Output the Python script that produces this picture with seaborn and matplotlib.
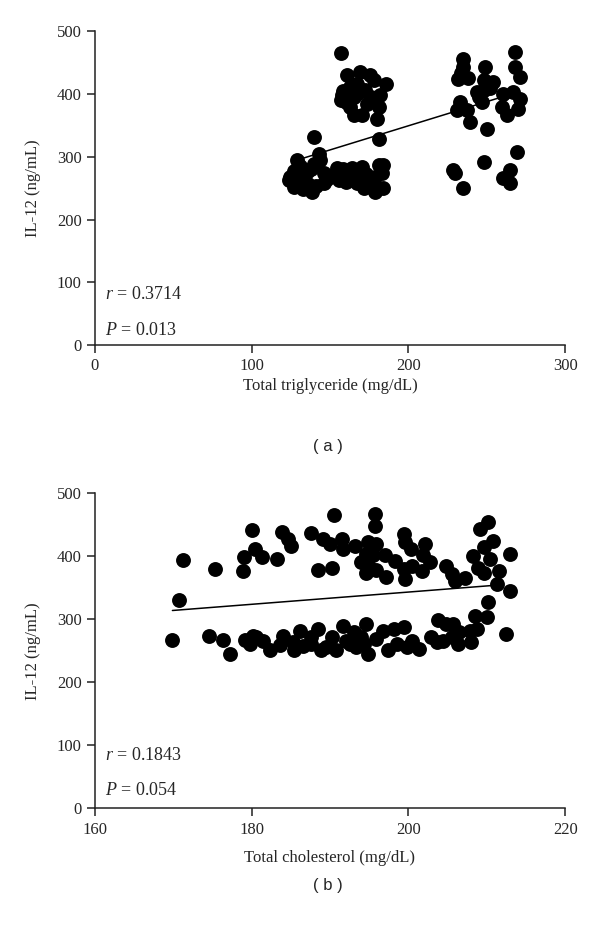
import matplotlib

matplotlib.use("Agg")
import matplotlib.pyplot as plt
import pandas as pd
import seaborn as sns

# ---- panel (a): total triglyceride vs IL-12 ----
tg_x = [
    157.3, 161, 169.4, 175.8, 185.4, 157.7, 156.7, 163, 167, 172.6, 182, 181, 163, 165, 170.5,
    173.7, 180, 160, 176, 165, 168, 158, 178,
    139.5, 181,
    129, 142.8, 143.5, 124.8, 126.9, 133, 138.6, 135.5, 146, 154.6, 155.6, 161.8, 170.5, 168.3,
    171.5, 167, 179, 184, 183, 184, 179, 150, 158, 131, 138, 127, 146, 173, 124, 141, 181, 130,
    136, 160, 176, 164, 133, 148, 140,
    234.8, 234.8, 233.7, 231.9, 238, 249, 268, 268, 271, 248, 254, 243.7, 248, 260.6, 267, 233,
    231, 237.4, 247, 259.7, 262.8, 270, 271, 239.5, 250, 269, 230, 228.5, 235, 248, 265, 260.6,
    265, 252, 245,
]
tg_il12 = [
    466, 430, 435, 430, 417, 398, 391, 411, 417, 406, 398, 379, 379, 366, 366,
    385, 361, 387, 395, 395, 402, 405, 422,
    332, 328,
    294.6, 305, 295, 268, 252, 263, 244, 276, 274, 282, 263, 274, 284, 266,
    250, 258, 268, 287, 274, 250, 244, 270, 280, 285, 280, 277, 258, 272, 263, 253, 287, 270,
    256, 260, 255, 283, 248, 264, 289,
    456, 443, 433, 424, 425, 443, 467, 443, 428, 422, 419, 403, 406, 401, 403, 387,
    374, 374, 387, 379, 366, 377, 393, 356, 345, 308, 274, 279, 250, 292, 279, 266,
    259, 410, 395,
]
tg_trend_x = [133, 259]
tg_trend_y = [298, 395]

# ---- panel (b): total cholesterol vs IL-12 ----
chol_x = [
    169.9, 170.7, 171.3, 175.3, 174.6, 176.4, 177.2, 178.9, 179, 180, 180.4, 181.3, 183.2, 183.9,
    184.7, 185, 187.6, 188.5, 190.2, 190.5, 189.1, 190, 191.5, 191.7, 193.2, 195.7, 195.7, 194.9,
    195.9, 194.6, 195.5, 193.9, 195, 194.6, 195.9, 197, 197.2, 198.3, 199.4, 199.6, 200.3, 199.4,
    199.6, 200.4, 201.7, 202.1, 201.9, 202.7, 204.8, 205.5, 205.9, 207.2, 208.3, 209.1, 210.2,
    210.8, 209.7, 210.4, 208.9, 209.7, 211.6, 213, 211.3, 213, 210.2, 210, 208.5, 212.5,
    179.1, 180.2, 179.8, 181.5, 182.3, 184, 183.6, 185.4, 186.2, 185.3, 187.6, 188.5, 188.9,
    190.2, 190.8, 191.7, 192.5, 193.1, 194, 194.6, 194.9, 194.4, 195.9, 196.8, 197.4, 198.1,
    199.4, 199.8, 200.4, 201.4, 202.9, 203.6, 203.8, 204.8, 205.7, 205.5, 206.3, 206.5, 207.8,
    208, 204.4, 189.5, 186.6, 180.6, 193.3, 187.6, 208.7, 198.5, 192,
]
chol_il12 = [
    267.4, 330.7, 394.5, 379.7, 272.6, 267.4, 245, 376, 399, 441.4, 411, 398, 395.6, 438.8,
    427, 416.6, 437, 378, 381, 465, 427, 419, 427, 411, 416.6, 466.8, 448, 421.8,
    419, 403.5, 401, 390, 382.6, 372.8, 377.3, 401, 366.5, 392.5, 435, 421.8, 411, 379.7,
    364, 384, 377, 419, 401, 390, 384, 371, 361, 365, 399.6, 443, 453.5,
    424.5, 414, 395.6, 381, 374, 377, 403.5, 355, 344.3, 327, 304, 305, 277,
    267.4, 274, 261, 266, 250.5, 274, 258.4, 250.5, 282, 263.6, 261, 284.8, 250.5,
    271.5, 250.5, 290, 261, 279.4, 271.5, 292.7, 245, 261, 269, 282, 250.5, 284.8,
    287.5, 255.7, 266, 253, 271.5, 264, 298, 292.7, 292.7, 271.5, 261, 279.4, 282,
    264, 266, 256, 258, 271.5, 256, 271.5, 284.8, 261, 266,
]
chol_trend_x = [169.9, 210.6]
chol_trend_y = [313.8, 353.3]

panels = [
    dict(x=tg_x, y=tg_il12, tx=tg_trend_x, ty=tg_trend_y, xlim=(0, 300), xticks=[0, 100, 200, 300],
         xlabel="Total triglyceride (mg/dL)", r="0.3714", p="0.013", tag="( a )", tag_y=0.517,
         rect=[0.158, 0.627, 0.784, 0.339], r_y=0.16, p_y=0.045, xpad=3),
    dict(x=chol_x, y=chol_il12, tx=chol_trend_x, ty=chol_trend_y, xlim=(160, 220),
         xticks=[160, 180, 200, 220], xlabel="Total cholesterol (mg/dL)", r="0.1843", p="0.054",
         tag="( b )", tag_y=0.043, rect=[0.158, 0.126, 0.784, 0.341], r_y=0.169, p_y=0.057, xpad=9),
]

sns.set_style("ticks")
plt.rcParams["font.family"] = ["Liberation Serif", "DejaVu Serif"]
plt.rcParams["mathtext.fontset"] = "custom"
plt.rcParams["mathtext.rm"] = "Liberation Serif"
plt.rcParams["mathtext.it"] = "Liberation Serif:italic"

fig = plt.figure(figsize=(6, 9.25), dpi=100)

for pn in panels:
    ax = fig.add_axes(pn["rect"])
    df = pd.DataFrame({"x": pn["x"], "y": pn["y"]})
    sns.scatterplot(data=df, x="x", y="y", ax=ax, color="black", s=115, linewidth=0, alpha=1)
    sns.lineplot(x=pn["tx"], y=pn["ty"], ax=ax, color="black", linewidth=1.1)
    ax.set_xlim(*pn["xlim"])
    ax.set_ylim(0, 500)
    ax.set_xticks(pn["xticks"])
    ax.set_yticks([0, 100, 200, 300, 400, 500])
    ax.set_xlabel(pn["xlabel"], fontsize=12, labelpad=pn["xpad"])
    ax.set_ylabel("IL-12 (ng/mL)", fontsize=12, labelpad=11)
    ax.tick_params(labelsize=12, length=6, width=1.1, color="#222222")
    for side in ("left", "bottom"):
        ax.spines[side].set_linewidth(1.1)
        ax.spines[side].set_color("#222222")
    sns.despine(ax=ax)
    ax.text(0.022, pn["r_y"], "$r$ = " + pn["r"], transform=ax.transAxes, fontsize=13, va="center")
    ax.text(0.022, pn["p_y"], "$P$ = " + pn["p"], transform=ax.transAxes, fontsize=13, va="center")
    fig.text(0.547, pn["tag_y"], pn["tag"], ha="center", va="center", fontsize=12,
             family=["Liberation Sans", "DejaVu Sans"])

fig.savefig("out.png", dpi=100)
